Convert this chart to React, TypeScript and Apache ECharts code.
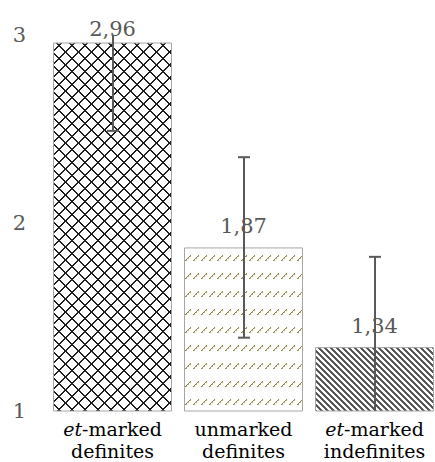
import React, { useEffect, useRef } from "react";
import * as echarts from "echarts";

const categories = ["et-marked\ndefinites", "unmarked\ndefinites", "et-marked\nindefinites"];
const means = [2.96, 1.87, 1.34];
const errors = [0.47, 0.48, 0.48];
const yTicks = [1, 2, 3];

function makeCanvas(w: number, h: number, draw: (ctx: CanvasRenderingContext2D) => void) {
  const c = document.createElement("canvas");
  c.width = w;
  c.height = h;
  const ctx = c.getContext("2d")!;
  ctx.fillStyle = "#ffffff";
  ctx.fillRect(0, 0, w, h);
  draw(ctx);
  return c;
}

function latticePattern() {
  const p = 13;
  const c = makeCanvas(p, p, (ctx) => {
    ctx.fillStyle = "#1e1e1e";
    for (let i = 0; i < p; i++) {
      ctx.fillRect(i, i, 1, 1);
      ctx.fillRect((i + 1) % p, i, 1, 1);
      ctx.fillRect((p - 1 - i + p) % p, i, 1, 1);
      ctx.fillRect((p - i + p) % p, i, 1, 1);
    }
  });
  return { image: c, repeat: "repeat", imageWidth: p, imageHeight: p };
}

function dashPattern() {
  const w = 8;
  const h = 18;
  const c = makeCanvas(w, h, (ctx) => {
    ctx.fillStyle = "#97863f";
    [
      [1, 8],
      [2, 7],
      [3, 6],
      [4, 5],
      [5, 4],
      [6, 3],
    ].forEach(([x, y]) => ctx.fillRect(x, y, 1, 1));
    ctx.fillStyle = "#b3a56e";
    [
      [2, 8],
      [4, 6],
      [6, 4],
    ].forEach(([x, y]) => ctx.fillRect(x, y, 1, 1));
  });
  return { image: c, repeat: "repeat", imageWidth: w, imageHeight: h };
}

function stripePattern() {
  const p = 6;
  const c = makeCanvas(p, p, (ctx) => {
    for (let y = 0; y < p; y++) {
      for (let x = 0; x < p; x++) {
        const m = (((x - y) % p) + p) % p;
        if (m < 3) {
          ctx.fillStyle = m === 1 ? "#4a4a4a" : "#666666";
          ctx.fillRect(x, y, 1, 1);
        }
      }
    }
  });
  return { image: c, repeat: "repeat", imageWidth: p, imageHeight: p };
}

export default function App() {
  const ref = useRef<HTMLDivElement>(null);

  useEffect(() => {
    if (!ref.current) return;
    const chart = echarts.init(ref.current, null, { renderer: "svg" });
    const yMin = yTicks[0];
    const yMax = yTicks[yTicks.length - 1];
    const patterns = [latticePattern(), dashPattern(), stripePattern()];
    const borders = ["#a6a6a6", "#a6a6a6", "#a6a6a6"];
    const font = "'DejaVu Serif', serif";

    chart.setOption({
      animation: false,
      backgroundColor: "#ffffff",
      grid: {
        left: 47,
        top: 35,
        width: 393,
        height: 376,
        containLabel: false,
        outerBoundsMode: "none",
      },
      xAxis: {
        type: "category",
        data: categories,
        axisLine: { show: false },
        axisTick: { show: false },
        axisLabel: {
          margin: 7,
          interval: 0,
          color: "#000000",
          fontFamily: font,
          fontSize: 19,
          lineHeight: 22,
          formatter: (v: string) =>
            v
              .split("\n")
              .map((line) =>
                line.startsWith("et-") ? "{i|et}{n|" + line.slice(2) + "}" : "{n|" + line + "}"
              )
              .join("\n"),
          rich: {
            i: { fontStyle: "italic", fontFamily: font, fontSize: 19, color: "#000", lineHeight: 22 },
            n: { fontFamily: font, fontSize: 19, color: "#000", lineHeight: 22 },
          },
        },
      },
      yAxis: {
        type: "value",
        min: yMin,
        max: yMax,
        interval: 1,
        axisLine: { show: false },
        axisTick: { show: false },
        splitLine: { show: false },
        axisLabel: {
          margin: 21,
          color: "#595959",
          fontFamily: font,
          fontSize: 21,
        },
      },
      series: [
        {
          type: "bar",
          barWidth: 119,
          data: means.map((m, i) => ({
            value: m,
            itemStyle: { color: patterns[i], borderColor: borders[i], borderWidth: 1 },
            label: { distance: i === 0 ? 3 : 11 },
          })),
          label: {
            show: true,
            position: "top",
            color: "#595959",
            fontFamily: font,
            fontSize: 21,
            formatter: (p: any) => Number(p.value).toFixed(2).replace(".", ","),
          },
          z: 2,
        },
        {
          type: "custom",
          z: 5,
          data: means.map((m, i) => [i, m, errors[i]]),
          renderItem: (params: any, api: any) => {
            const x = api.value(0);
            const m = api.value(1);
            const e = api.value(2);
            const lo = Math.max(m - e, yMin);
            const hi = Math.min(m + e, yMax);
            const pLo = api.coord([x, lo]);
            const pHi = api.coord([x, hi]);
            const cx = Math.round(pLo[0]);
            const stroke = { stroke: "#595959", lineWidth: 2 };
            const children: any[] = [
              { type: "line", shape: { x1: cx, y1: pHi[1], x2: cx, y2: pLo[1] }, style: stroke },
            ];
            const hw = 6;
            if (m + e <= yMax) {
              children.push({ type: "line", shape: { x1: cx - hw, y1: pHi[1], x2: cx + hw, y2: pHi[1] }, style: stroke });
            }
            if (m - e >= yMin) {
              children.push({ type: "line", shape: { x1: cx - hw, y1: pLo[1], x2: cx + hw, y2: pLo[1] }, style: stroke });
            }
            return { type: "group", children };
          },
        },
      ],
    });
    return () => chart.dispose();
  }, []);

  return (
    <div
      ref={ref}
      style={{ position: "absolute", left: 0, top: 0, width: 435, height: 462, background: "#fff" }}
    />
  );
}
